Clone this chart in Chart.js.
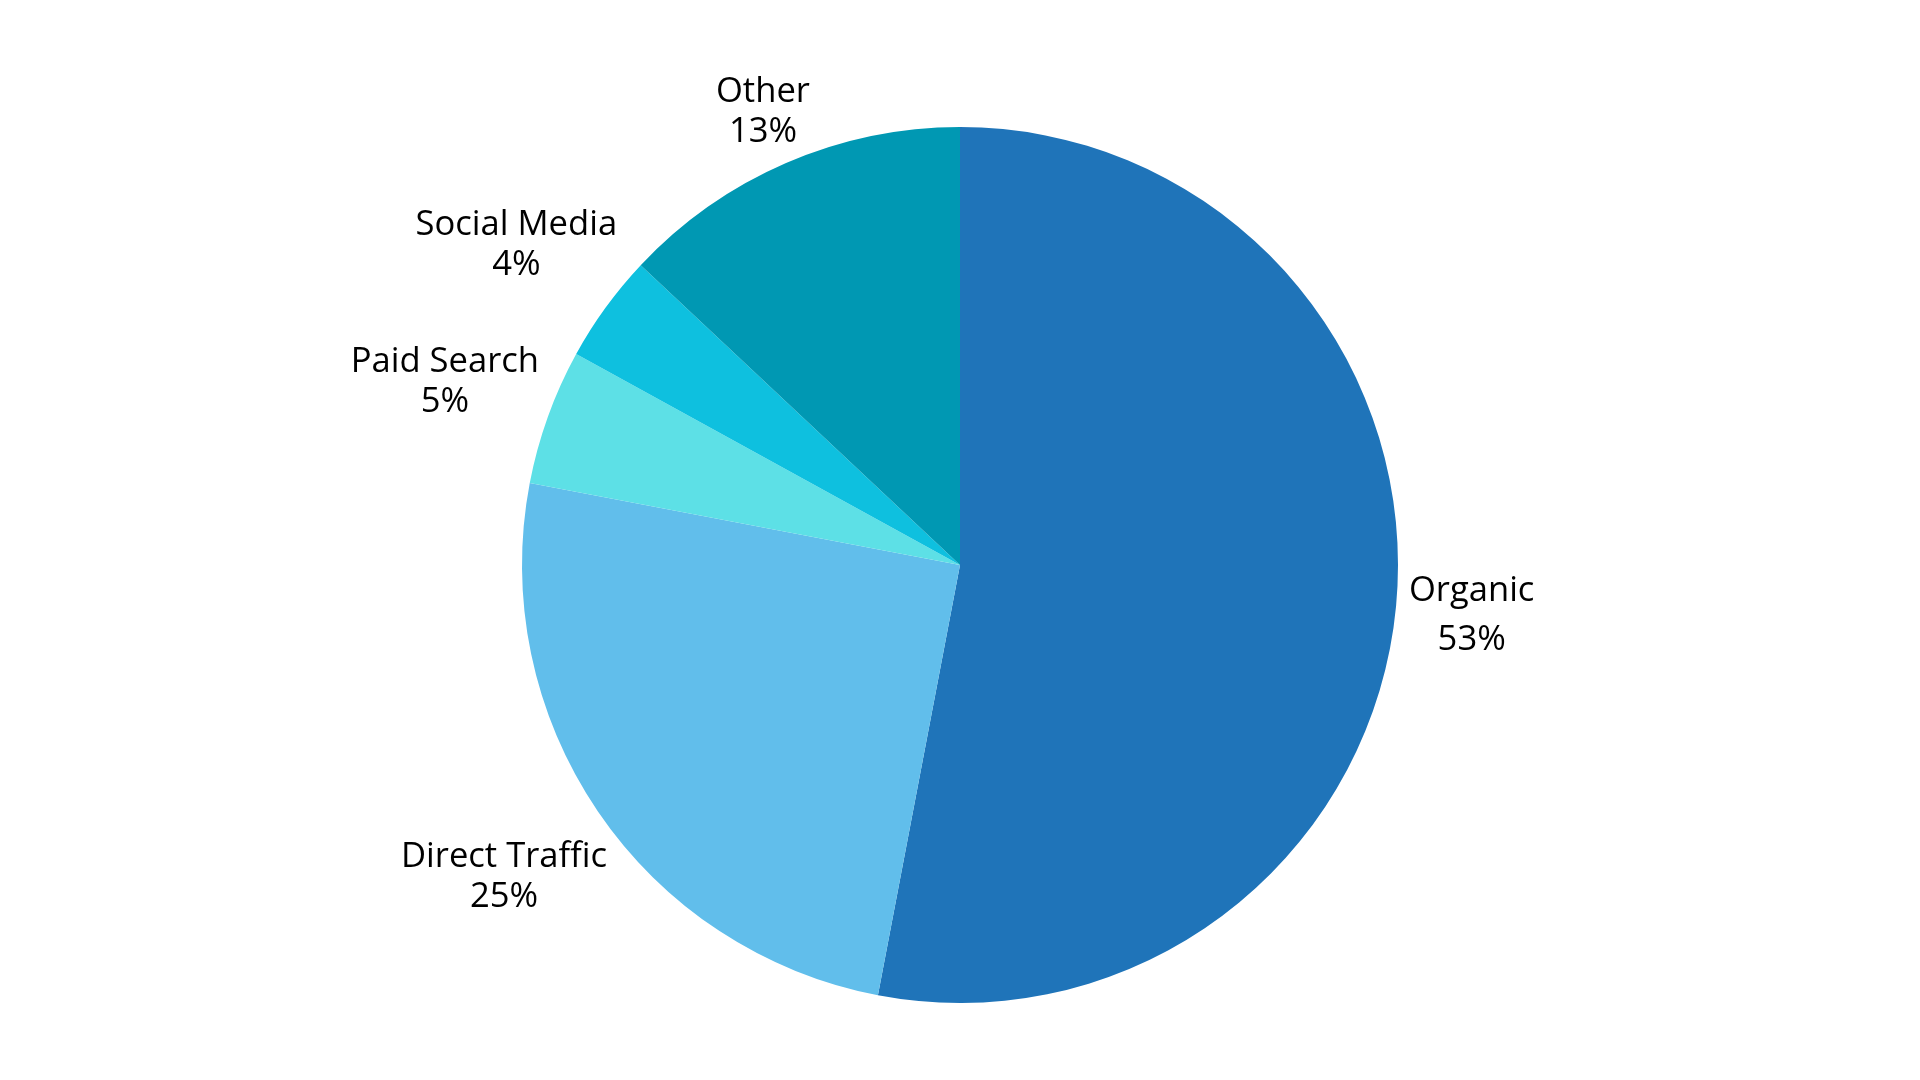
<!DOCTYPE html>
<html>
<head>
<meta charset="utf-8">
<title>Traffic sources</title>
<script src="https://cdn.jsdelivr.net/npm/chart.js@4/dist/chart.umd.min.js"></script>
<style>
  html, body { margin: 0; padding: 0; background: #fff; }
  #wrap { width: 1920px; height: 1080px; }
</style>
</head>
<body>
<div id="wrap"><canvas id="pieChart" width="1920" height="1080"></canvas></div>
<script>
// Traffic share by source (percent), clockwise from the top
const sources = ['Organic', 'Direct Traffic', 'Paid Search', 'Social Media', 'Other'];
const shares = [53, 25, 5, 4, 13];
const sliceColors = ['#1f74b9', '#61beeb', '#5de0e6', '#0ec0df', '#0098b3'];

// Draws "name / value%" outside each slice, centred on the slice's middle angle
const outsideLabels = {
    id: 'outsideLabels',
    afterDatasetsDraw(chart) {
        const ctx = chart.ctx;
        const meta = chart.getDatasetMeta(0);
        const fontSize = 34.6;
        const capH = fontSize * 0.714;
        const gap = 10; // space between the pie edge and the text block
        ctx.save();
        ctx.font = fontSize + 'px "Open Sans"';
        ctx.fillStyle = '#000';
        ctx.textAlign = 'center';
        ctx.textBaseline = 'alphabetic';
        meta.data.forEach((arc, i) => {
            const p = arc.getProps(['x', 'y', 'startAngle', 'endAngle', 'outerRadius'], true);
            const mid = (p.startAngle + p.endAngle) / 2;
            const lines = [chart.data.labels[i], chart.data.datasets[0].data[i] + '%'];
            const w = Math.max(...lines.map(t => ctx.measureText(t).width));
            // lines with descenders push the next line down a bit
            const desc = ctx.measureText(lines[0]).actualBoundingBoxDescent || 0;
            const pitch = 39.5 + desc * 1.2;
            const h = capH + pitch * (lines.length - 1);
            const cos = Math.cos(mid), sin = Math.sin(mid);
            const d = p.outerRadius + gap + Math.abs(cos) * w / 2 + Math.abs(sin) * h / 2;
            const cx = p.x + cos * d;
            const cy = p.y + sin * d;
            lines.forEach((t, k) => {
                ctx.fillText(t, cx, cy - h / 2 + capH + pitch * k);
            });
        });
        ctx.restore();
    }
};

document.addEventListener('DOMContentLoaded', function () {
    const ctx = document.getElementById('pieChart').getContext('2d');
    new Chart(ctx, {
        type: 'pie',
        data: {
            labels: sources,
            datasets: [{
                data: shares,
                backgroundColor: sliceColors,
                borderWidth: 0
            }]
        },
        options: {
            responsive: false,
            animation: false,
            layout: { padding: { top: 127, bottom: 77, left: 0, right: 0 } },
            plugins: {
                legend: { display: false },
                tooltip: { enabled: false }
            }
        },
        plugins: [outsideLabels]
    });
});
</script>
</body>
</html>
